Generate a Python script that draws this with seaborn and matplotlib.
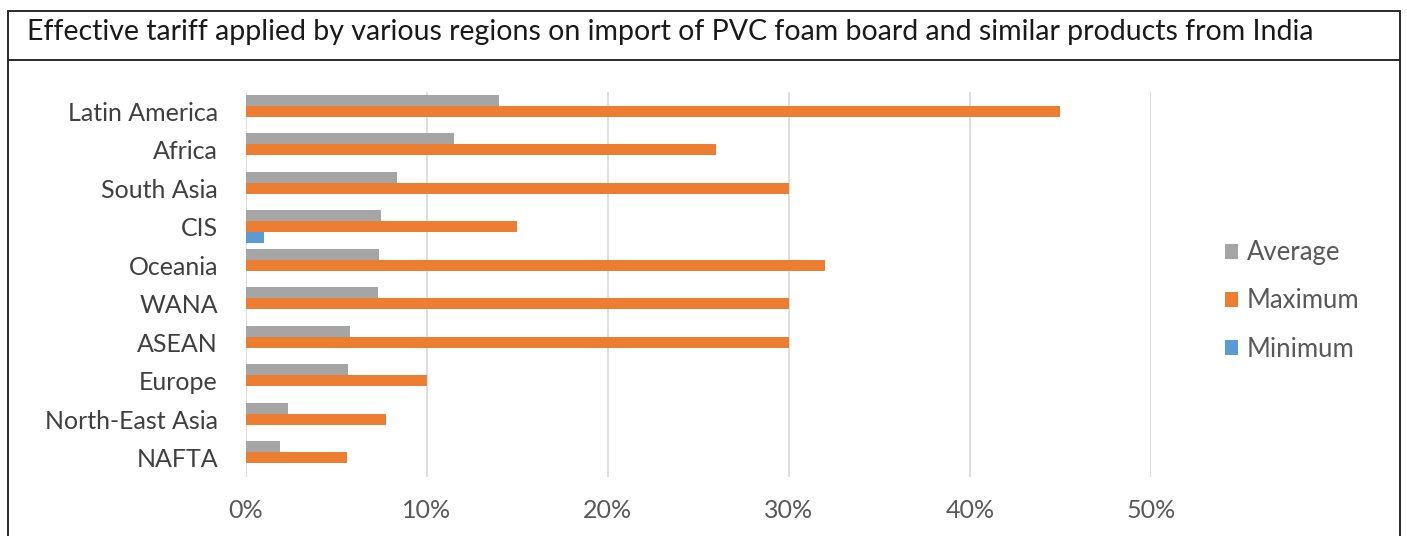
import matplotlib
matplotlib.use("Agg")
import matplotlib.pyplot as plt
import seaborn as sns
import pandas as pd
from matplotlib.lines import Line2D
from matplotlib.patches import Patch
from matplotlib.ticker import FuncFormatter

regions = ["Latin America", "Africa", "South Asia", "CIS", "Oceania", "WANA",
           "ASEAN", "Europe", "North-East Asia", "NAFTA"]
average = [0.14, 0.115, 0.0835, 0.0745, 0.0735, 0.0733, 0.0575, 0.0565, 0.0236, 0.019]
maximum = [0.45, 0.26, 0.30, 0.15, 0.32, 0.30, 0.30, 0.10, 0.0777, 0.056]
minimum = [0.0, 0.0, 0.0, 0.01, 0.0, 0.0, 0.0, 0.0, 0.0, 0.0]
series = ["Average", "Maximum", "Minimum"]
colors = ["#A5A5A5", "#ED7D31", "#5B9BD5"]
x_ticks = [0, 0.1, 0.2, 0.3, 0.4, 0.5]
title = "Effective tariff applied by various regions on import of PVC foam board and similar products from India"

rows = []
for s, vals in zip(series, [average, maximum, minimum]):
    for r, v in zip(regions, vals):
        rows.append({"Region": r, "Series": s, "Value": v})
df = pd.DataFrame(rows)

sns.set_theme(style="white")
plt.rcParams["font.family"] = ["Lato", "DejaVu Sans"]

W, H = 1407, 536
fig = plt.figure(figsize=(W / 100, H / 100), dpi=100)
ax = fig.add_axes([245.7 / W, 1 - 477 / H, (1151 - 245.7) / W, (477 - 92) / H])

sns.barplot(data=df, y="Region", x="Value", hue="Series", order=regions,
            hue_order=series, palette=colors, orient="h", width=0.86,
            saturation=1, ax=ax, legend=False, linewidth=0)

ax.set_xlim(0, 0.5)
ax.set_ylim(len(regions) - 0.5, -0.5)
ax.set_xticks(x_ticks)
ax.xaxis.set_major_formatter(FuncFormatter(lambda v, p: f"{v*100:.0f}%"))
ax.grid(axis="x", color="#D9D9D9", linewidth=1.2)
ax.set_axisbelow(True)
for sp in ax.spines.values():
    sp.set_visible(False)
ax.set_xlabel("")
ax.set_ylabel("")
ax.tick_params(axis="x", length=0, pad=16, labelsize=18, labelcolor="#595959")
ax.tick_params(axis="y", length=0, pad=20, labelsize=18, labelcolor="#404040")

handles = [Patch(facecolor=c, edgecolor="none") for c in colors]
fig.legend(handles, series, loc="center left",
           bbox_to_anchor=(1225 / W, 1 - 301 / H), frameon=False,
           borderpad=0, borderaxespad=0,
           fontsize=18.5, handlelength=0.5, handleheight=0.5,
           handletextpad=0.35, labelspacing=0.9, labelcolor="#595959")

# frame lines
def fline(x0, y0, x1, y1):
    fig.add_artist(Line2D([x0 / W, x1 / W], [1 - y0 / H, 1 - y1 / H],
                          color="#2b2b2b", linewidth=1.4,
                          transform=fig.transFigure))

fline(8, 10.5, 1400, 10.5)
fline(8, 59.5, 1400, 59.5)
fline(8, 10.5, 8, 536)
fline(1400, 10.5, 1400, 536)

fig.text(27 / W, 1 - 32 / H, title, ha="left", va="center",
         fontsize=20.5, color="#1a1a1a")

fig.savefig("out.png", dpi=100)
